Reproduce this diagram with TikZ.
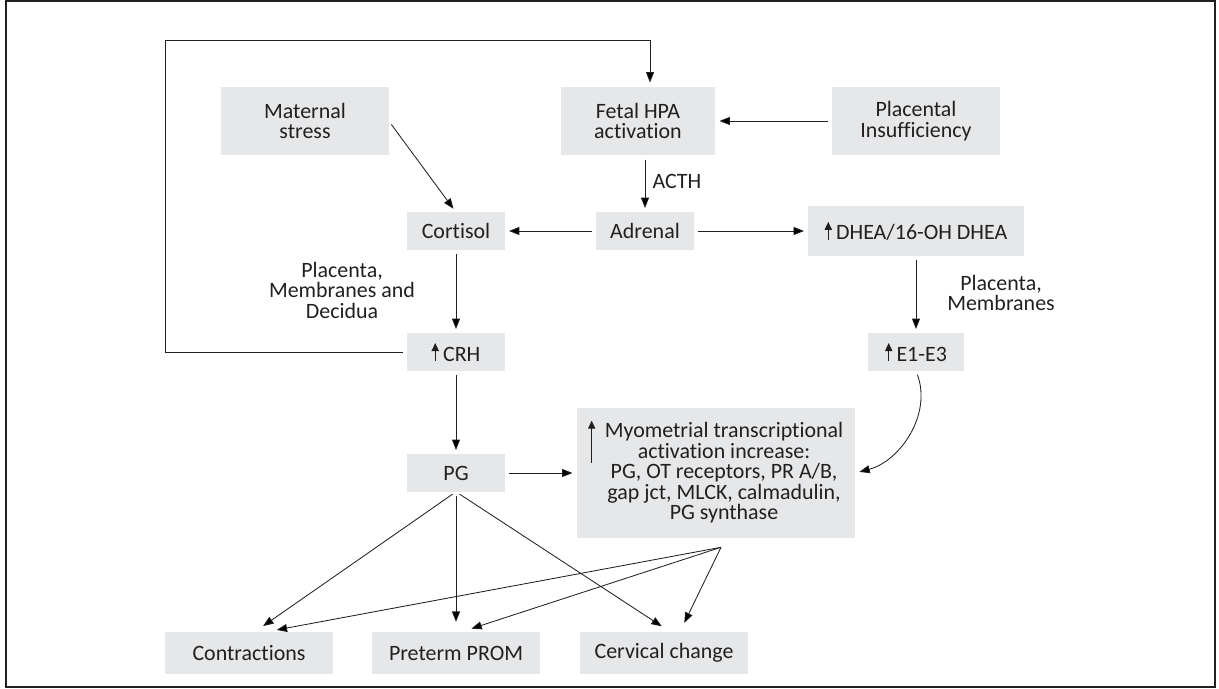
\documentclass[tikz,border=0pt]{standalone}
\usepackage{fontspec}
\setmainfont{Carlito}[Ligatures=NoCommon]
\usetikzlibrary{arrows.meta}

\definecolor{boxgray}{RGB}{230,231,232}
\definecolor{inkgray}{RGB}{35,31,32}
\newcommand{\boxfont}{\fontsize{15.6}{14.6}\selectfont}
\newcommand{\upar}{\tikz[baseline=0pt]\draw[-{Triangle[length=2mm,width=1.8mm]}, line width=0.8pt, draw=inkgray] (0,0) -- (0,0.45cm);\hspace{3pt}}

\tikzset{
  box/.style={fill=boxgray, text=inkgray, align=center, inner sep=0pt, font=\boxfont},
  bigbox/.style={box, minimum width=4.175cm, minimum height=1.7cm},
  smallbox/.style={box, minimum width=2.425cm, minimum height=0.925cm},
  outbox/.style={box, minimum width=4.175cm, minimum height=1.05cm},
  lbl/.style={text=inkgray, align=center, font=\boxfont},
  arr/.style={-{Triangle[length=2.6mm,width=2mm]}, line width=0.6pt, draw=inkgray,
              shorten >=3pt, shorten <=3pt},
}

\begin{document}
\begin{tikzpicture}[x=0.025cm, y=-0.025cm]

% ── Marco ─────────────────────────────────────────────────────
\useasboundingbox (0,0) rectangle (1219,689);
\draw[line width=1pt, inkgray] (6,1) rectangle (1215,687);

% ── Fila superior ─────────────────────────────────────────────
\node[bigbox]                      (mstress) at (305,121) {Maternal\\stress};
\node[bigbox, minimum width=3.85cm] (fetal)  at (638,121) {Fetal HPA\\activation};
\node[bigbox]                      (placins) at (916,121) {Placental\\Insufficiency};

% ── Suprarrenal ───────────────────────────────────────────────
\node[smallbox] (cortisol) at (456,231) {Cortisol};
\node[smallbox] (adrenal)  at (645,231) {Adrenal};
\node[box, minimum width=5.375cm, minimum height=1.225cm] (dhea) at (916,231)
    {\upar DHEA/16-OH DHEA};

% ── Placenta ──────────────────────────────────────────────────
\node[smallbox]                        (crh) at (456,352) {\upar CRH};
\node[smallbox, minimum width=2.375cm] (e13) at (916,352) {\upar E1-E3};

\node[smallbox] (pg) at (456,473) {PG};
\node[box, minimum width=6.95cm, minimum height=3.25cm] (myo) at (716,473)
    {\hspace*{0.4cm}Myometrial transcriptional\\\hspace*{0.4cm}activation increase:\\
     \hspace*{0.4cm}PG, OT receptors, PR A/B,\\\hspace*{0.4cm}gap jct, MLCK, calmadulin,\\
     \hspace*{0.4cm}PG synthase};
\draw[-{Triangle[length=2mm,width=1.8mm]}, line width=0.8pt, inkgray]
    ([shift={(15,55)}]myo.north west) -- ([shift={(15,13)}]myo.north west);

% ── Resultados ────────────────────────────────────────────────
\node[outbox] (contr)  at (249,653) {Contractions};
\node[outbox] (prom)   at (456,653) {Preterm PROM};
\node[outbox] (cervix) at (664,653) {Cervical change};

% Etiquetas de las flechas
\node[lbl] (acth) at (677,181) {ACTH};
\node[lbl] (plmd) at (342,290) {Placenta,\\Membranes and\\Decidua};
\node[lbl] (plm)  at (1001,293) {Placenta,\\Membranes};

% ── Flechas ───────────────────────────────────────────────────
\coordinate (loopcorner) at (165,40);
\draw[arr] (crh.west) -| (loopcorner) -| ([xshift=0.3cm]fetal.north);

\draw[arr] (mstress.east) -- (cortisol.north);
\draw[arr] (placins.west) -- (fetal.east);
\draw[arr] (adrenal.north |- fetal.south) -- (adrenal.north);
\draw[arr] (adrenal.west) -- (cortisol.east);
\draw[arr] (adrenal.east) -- (dhea.west);
\draw[arr] (cortisol.south) -- (crh.north);
\draw[arr] (dhea.south) -- (e13.north);
\draw[arr] (crh.south) -- (pg.north);
\draw[arr] (pg.east) -- (myo.west);
\draw[arr] (e13.south) to[out=-70, in=15] (myo.east);

% PG hacia los resultados
\draw[arr, shorten >=7pt] (pg.south) -- ([xshift=0.15cm]contr.north);
\draw[arr, shorten >=7pt] (pg.south) -- (prom.north);
\draw[arr, shorten >=7pt] (pg.south) -- ([xshift=0.15cm]cervix.north);

% Miometrio hacia los resultados
\coordinate (myotip) at ([shift={(5,9)}]myo.south);
\draw[arr, shorten <=0pt, shorten >=7pt] (myotip) -- ([xshift=0.45cm]contr.north);
\draw[arr, shorten <=0pt, shorten >=7pt] (myotip) -- ([xshift=0.15cm]prom.north);
\draw[arr, shorten <=0pt, shorten >=7pt] (myotip) -- ([xshift=0.4cm]cervix.north);

\end{tikzpicture}
\end{document}
